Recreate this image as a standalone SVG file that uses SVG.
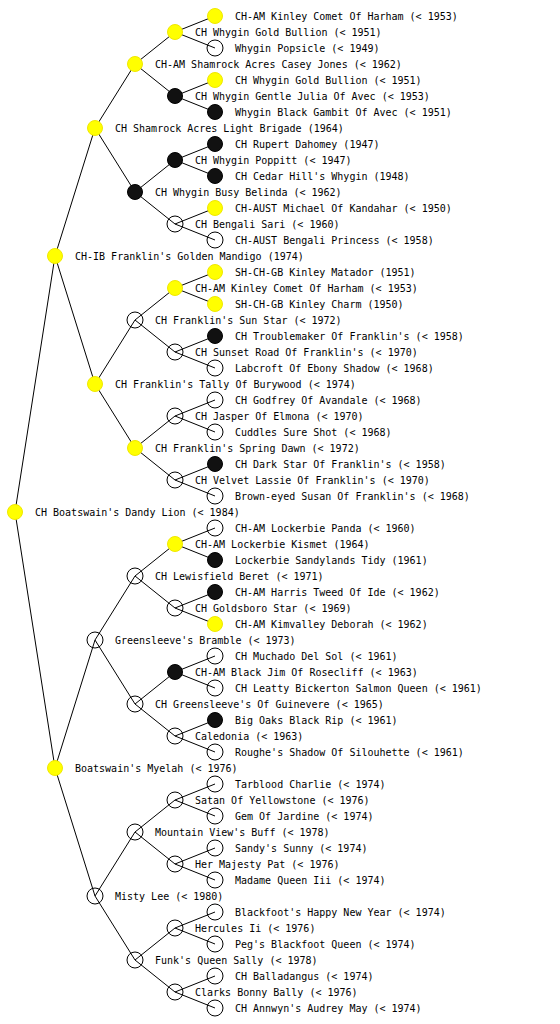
<svg xmlns="http://www.w3.org/2000/svg" width="560" height="1024" viewBox="0 0 560 1024">
<style>
.t{font-family:"DejaVu Sans Mono","Liberation Mono",monospace;font-size:10px;fill:#000}
.y{fill:#ffff00;stroke:#f0e800;stroke-width:1}
.b{fill:#111;stroke:#000;stroke-width:1}
.w{fill:none;stroke:#000;stroke-width:1}
.c{stroke:#000;stroke-width:1;fill:none}
</style>
<rect width="560" height="1024" fill="#fff"/>
<g id="connectors" class="c">
<path d="M15,512L55,256M15,512L55,768
M55,256L95,128M55,256L95,384M55,768L95,640M55,768L95,896
M95,128L135,64M95,128L135,192M95,384L135,320M95,384L135,448M95,640L135,576M95,640L135,704M95,896L135,832M95,896L135,960
M135,64L175,32M135,64L175,96M135,192L175,160M135,192L175,224M135,320L175,288M135,320L175,352M135,448L175,416M135,448L175,480
M135,576L175,544M135,576L175,608M135,704L175,672M135,704L175,736M135,832L175,800M135,832L175,864M135,960L175,928M135,960L175,992
M175,32L215,16M175,32L215,48M175,96L215,80M175,96L215,112M175,160L215,144M175,160L215,176M175,224L215,208M175,224L215,240
M175,288L215,272M175,288L215,304M175,352L215,336M175,352L215,368M175,416L215,400M175,416L215,432M175,480L215,464M175,480L215,496
M175,544L215,528M175,544L215,560M175,608L215,592M175,608L215,624M175,672L215,656M175,672L215,688M175,736L215,720M175,736L215,752
M175,800L215,784M175,800L215,816M175,864L215,848M175,864L215,880M175,928L215,912M175,928L215,944M175,992L215,976M175,992L215,1008"/>
</g>
<g id="n0"><circle class="y" cx="15" cy="512" r="7.5"/><text class="t" x="35" y="516">CH Boatswain's Dandy Lion (&lt; 1984)</text></g>
<g id="n1a"><circle class="y" cx="55" cy="256" r="7.5"/><text class="t" x="75" y="260">CH-IB Franklin's Golden Mandigo (1974)</text></g>
<g id="n1b"><circle class="y" cx="55" cy="768" r="7.5"/><text class="t" x="75" y="772">Boatswain's Myelah (&lt; 1976)</text></g>
<g id="n2a"><circle class="y" cx="95" cy="128" r="7.5"/><text class="t" x="115" y="132">CH Shamrock Acres Light Brigade (1964)</text></g>
<g id="n2b"><circle class="y" cx="95" cy="384" r="7.5"/><text class="t" x="115" y="388">CH Franklin's Tally Of Burywood (&lt; 1974)</text></g>
<g id="n2c"><circle class="w" cx="95" cy="640" r="8"/><text class="t" x="115" y="644">Greensleeve's Bramble (&lt; 1973)</text></g>
<g id="n2d"><circle class="w" cx="95" cy="896" r="8"/><text class="t" x="115" y="900">Misty Lee (&lt; 1980)</text></g>
<g id="n3a"><circle class="y" cx="135" cy="64" r="7.5"/><text class="t" x="155" y="68">CH-AM Shamrock Acres Casey Jones (&lt; 1962)</text></g>
<g id="n3b"><circle class="b" cx="135" cy="192" r="7.5"/><text class="t" x="155" y="196">CH Whygin Busy Belinda (&lt; 1962)</text></g>
<g id="n3c"><circle class="w" cx="135" cy="320" r="8"/><text class="t" x="155" y="324">CH Franklin's Sun Star (&lt; 1972)</text></g>
<g id="n3d"><circle class="y" cx="135" cy="448" r="7.5"/><text class="t" x="155" y="452">CH Franklin's Spring Dawn (&lt; 1972)</text></g>
<g id="n3e"><circle class="w" cx="135" cy="576" r="8"/><text class="t" x="155" y="580">CH Lewisfield Beret (&lt; 1971)</text></g>
<g id="n3f"><circle class="w" cx="135" cy="704" r="8"/><text class="t" x="155" y="708">CH Greensleeve's Of Guinevere (&lt; 1965)</text></g>
<g id="n3g"><circle class="w" cx="135" cy="832" r="8"/><text class="t" x="155" y="836">Mountain View's Buff (&lt; 1978)</text></g>
<g id="n3h"><circle class="w" cx="135" cy="960" r="8"/><text class="t" x="155" y="964">Funk's Queen Sally (&lt; 1978)</text></g>
<g id="n4a"><circle class="y" cx="175" cy="32" r="7.5"/><text class="t" x="195" y="36">CH Whygin Gold Bullion (&lt; 1951)</text></g>
<g id="n4b"><circle class="b" cx="175" cy="96" r="7.5"/><text class="t" x="195" y="100">CH Whygin Gentle Julia Of Avec (&lt; 1953)</text></g>
<g id="n4c"><circle class="b" cx="175" cy="160" r="7.5"/><text class="t" x="195" y="164">CH Whygin Poppitt (&lt; 1947)</text></g>
<g id="n4d"><circle class="w" cx="175" cy="224" r="8"/><text class="t" x="195" y="228">CH Bengali Sari (&lt; 1960)</text></g>
<g id="n4e"><circle class="y" cx="175" cy="288" r="7.5"/><text class="t" x="195" y="292">CH-AM Kinley Comet Of Harham (&lt; 1953)</text></g>
<g id="n4f"><circle class="w" cx="175" cy="352" r="8"/><text class="t" x="195" y="356">CH Sunset Road Of Franklin's (&lt; 1970)</text></g>
<g id="n4g"><circle class="w" cx="175" cy="416" r="8"/><text class="t" x="195" y="420">CH Jasper Of Elmona (&lt; 1970)</text></g>
<g id="n4h"><circle class="w" cx="175" cy="480" r="8"/><text class="t" x="195" y="484">CH Velvet Lassie Of Franklin's (&lt; 1970)</text></g>
<g id="n4i"><circle class="y" cx="175" cy="544" r="7.5"/><text class="t" x="195" y="548">CH-AM Lockerbie Kismet (1964)</text></g>
<g id="n4j"><circle class="w" cx="175" cy="608" r="8"/><text class="t" x="195" y="612">CH Goldsboro Star (&lt; 1969)</text></g>
<g id="n4k"><circle class="b" cx="175" cy="672" r="7.5"/><text class="t" x="195" y="676">CH-AM Black Jim Of Rosecliff (&lt; 1963)</text></g>
<g id="n4l"><circle class="w" cx="175" cy="736" r="8"/><text class="t" x="195" y="740">Caledonia (&lt; 1963)</text></g>
<g id="n4m"><circle class="w" cx="175" cy="800" r="8"/><text class="t" x="195" y="804">Satan Of Yellowstone (&lt; 1976)</text></g>
<g id="n4n"><circle class="w" cx="175" cy="864" r="8"/><text class="t" x="195" y="868">Her Majesty Pat (&lt; 1976)</text></g>
<g id="n4o"><circle class="w" cx="175" cy="928" r="8"/><text class="t" x="195" y="932">Hercules Ii (&lt; 1976)</text></g>
<g id="n4p"><circle class="w" cx="175" cy="992" r="8"/><text class="t" x="195" y="996">Clarks Bonny Bally (&lt; 1976)</text></g>
<g id="n5a"><circle class="y" cx="215" cy="16" r="7.5"/><text class="t" x="235" y="20">CH-AM Kinley Comet Of Harham (&lt; 1953)</text></g>
<g id="n5b"><circle class="w" cx="215" cy="48" r="8"/><text class="t" x="235" y="52">Whygin Popsicle (&lt; 1949)</text></g>
<g id="n5c"><circle class="y" cx="215" cy="80" r="7.5"/><text class="t" x="235" y="84">CH Whygin Gold Bullion (&lt; 1951)</text></g>
<g id="n5d"><circle class="b" cx="215" cy="112" r="7.5"/><text class="t" x="235" y="116">Whygin Black Gambit Of Avec (&lt; 1951)</text></g>
<g id="n5e"><circle class="b" cx="215" cy="144" r="7.5"/><text class="t" x="235" y="148">CH Rupert Dahomey (1947)</text></g>
<g id="n5f"><circle class="b" cx="215" cy="176" r="7.5"/><text class="t" x="235" y="180">CH Cedar Hill's Whygin (1948)</text></g>
<g id="n5g"><circle class="y" cx="215" cy="208" r="7.5"/><text class="t" x="235" y="212">CH-AUST Michael Of Kandahar (&lt; 1950)</text></g>
<g id="n5h"><circle class="w" cx="215" cy="240" r="8"/><text class="t" x="235" y="244">CH-AUST Bengali Princess (&lt; 1958)</text></g>
<g id="n5i"><circle class="y" cx="215" cy="272" r="7.5"/><text class="t" x="235" y="276">SH-CH-GB Kinley Matador (1951)</text></g>
<g id="n5j"><circle class="y" cx="215" cy="304" r="7.5"/><text class="t" x="235" y="308">SH-CH-GB Kinley Charm (1950)</text></g>
<g id="n5k"><circle class="b" cx="215" cy="336" r="7.5"/><text class="t" x="235" y="340">CH Troublemaker Of Franklin's (&lt; 1958)</text></g>
<g id="n5l"><circle class="w" cx="215" cy="368" r="8"/><text class="t" x="235" y="372">Labcroft Of Ebony Shadow (&lt; 1968)</text></g>
<g id="n5m"><circle class="w" cx="215" cy="400" r="8"/><text class="t" x="235" y="404">CH Godfrey Of Avandale (&lt; 1968)</text></g>
<g id="n5n"><circle class="w" cx="215" cy="432" r="8"/><text class="t" x="235" y="436">Cuddles Sure Shot (&lt; 1968)</text></g>
<g id="n5o"><circle class="b" cx="215" cy="464" r="7.5"/><text class="t" x="235" y="468">CH Dark Star Of Franklin's (&lt; 1958)</text></g>
<g id="n5p"><circle class="w" cx="215" cy="496" r="8"/><text class="t" x="235" y="500">Brown-eyed Susan Of Franklin's (&lt; 1968)</text></g>
<g id="n5q"><circle class="w" cx="215" cy="528" r="8"/><text class="t" x="235" y="532">CH-AM Lockerbie Panda (&lt; 1960)</text></g>
<g id="n5r"><circle class="b" cx="215" cy="560" r="7.5"/><text class="t" x="235" y="564">Lockerbie Sandylands Tidy (1961)</text></g>
<g id="n5s"><circle class="b" cx="215" cy="592" r="7.5"/><text class="t" x="235" y="596">CH-AM Harris Tweed Of Ide (&lt; 1962)</text></g>
<g id="n5t"><circle class="y" cx="215" cy="624" r="7.5"/><text class="t" x="235" y="628">CH-AM Kimvalley Deborah (&lt; 1962)</text></g>
<g id="n5u"><circle class="w" cx="215" cy="656" r="8"/><text class="t" x="235" y="660">CH Muchado Del Sol (&lt; 1961)</text></g>
<g id="n5v"><circle class="w" cx="215" cy="688" r="8"/><text class="t" x="235" y="692">CH Leatty Bickerton Salmon Queen (&lt; 1961)</text></g>
<g id="n5w"><circle class="b" cx="215" cy="720" r="7.5"/><text class="t" x="235" y="724">Big Oaks Black Rip (&lt; 1961)</text></g>
<g id="n5x"><circle class="w" cx="215" cy="752" r="8"/><text class="t" x="235" y="756">Roughe's Shadow Of Silouhette (&lt; 1961)</text></g>
<g id="n5y"><circle class="w" cx="215" cy="784" r="8"/><text class="t" x="235" y="788">Tarblood Charlie (&lt; 1974)</text></g>
<g id="n5z"><circle class="w" cx="215" cy="816" r="8"/><text class="t" x="235" y="820">Gem Of Jardine (&lt; 1974)</text></g>
<g id="n5A"><circle class="w" cx="215" cy="848" r="8"/><text class="t" x="235" y="852">Sandy's Sunny (&lt; 1974)</text></g>
<g id="n5B"><circle class="w" cx="215" cy="880" r="8"/><text class="t" x="235" y="884">Madame Queen Iii (&lt; 1974)</text></g>
<g id="n5C"><circle class="w" cx="215" cy="912" r="8"/><text class="t" x="235" y="916">Blackfoot's Happy New Year (&lt; 1974)</text></g>
<g id="n5D"><circle class="w" cx="215" cy="944" r="8"/><text class="t" x="235" y="948">Peg's Blackfoot Queen (&lt; 1974)</text></g>
<g id="n5E"><circle class="w" cx="215" cy="976" r="8"/><text class="t" x="235" y="980">CH Balladangus (&lt; 1974)</text></g>
<g id="n5F"><circle class="w" cx="215" cy="1008" r="8"/><text class="t" x="235" y="1012">CH Annwyn's Audrey May (&lt; 1974)</text></g>
</svg>
